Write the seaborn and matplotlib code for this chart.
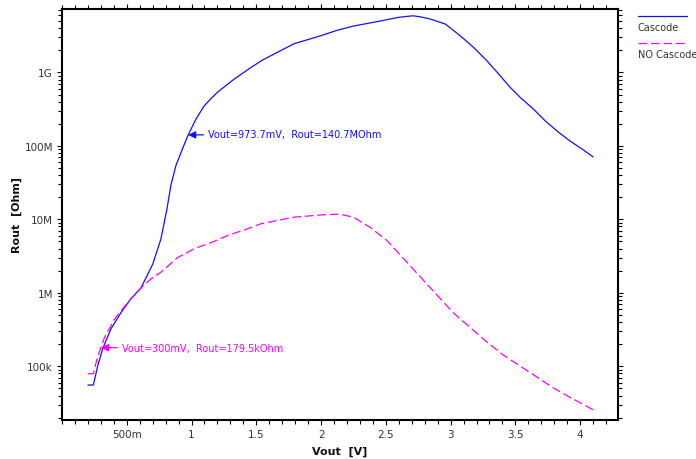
import numpy as np
import pandas as pd
import matplotlib
matplotlib.use("Agg")
import matplotlib.pyplot as plt
from matplotlib.lines import Line2D
from matplotlib.ticker import FixedLocator, LogLocator, NullFormatter, MultipleLocator
import seaborn as sns

# ---- data (Vout in V, Rout in Ohm) ----
cascode_v = [0.20, 0.242, 0.276, 0.314, 0.378, 0.455, 0.532, 0.61, 0.70, 0.763,
             0.81, 0.84, 0.879, 0.93, 0.9737, 1.033, 1.097, 1.149, 1.20, 1.33,
             1.46, 1.55, 1.79, 2.0, 2.12, 2.25, 2.46, 2.60, 2.71, 2.767,
             2.844, 2.96, 3.074, 3.177, 3.28, 3.383, 3.46, 3.537, 3.64, 3.73,
             3.82, 3.92, 4.025, 4.10]
cascode_r = [55.7e3, 55.7e3, 102e3, 174e3, 324e3, 537e3, 832e3, 1.17e6, 2.45e6, 5.37e6,
             13.8e6, 28.8e6, 53.7e6, 91.2e6, 140.7e6, 229e6, 350e6, 437e6, 537e6, 813e6,
             1.17e9, 1.48e9, 2.45e9, 3.16e9, 3.72e9, 4.27e9, 5.01e9, 5.62e9, 5.89e9, 5.70e9,
             5.31e9, 4.54e9, 3.15e9, 2.19e9, 1.44e9, 899e6, 625e6, 457e6, 316e6, 219e6,
             160e6, 117e6, 88.0e6, 70.8e6]

nocascode_v = [0.20, 0.242, 0.276, 0.30, 0.327, 0.404, 0.507, 0.61, 0.686, 0.763,
               0.892, 1.02, 1.174, 1.277, 1.43, 1.534, 1.79, 2.0, 2.10, 2.15,
               2.25, 2.38, 2.51, 2.64, 2.77, 2.90, 3.02, 3.15, 3.28, 3.41,
               3.54, 3.67, 3.79, 3.92, 4.10]
nocascode_r = [79.4e3, 79.4e3, 138e3, 179.5e3, 245e3, 437e3, 741e3, 1.17e6, 1.55e6, 1.91e6,
               3.02e6, 3.98e6, 5.01e6, 6.03e6, 7.41e6, 8.71e6, 10.7e6, 11.5e6, 11.7e6, 11.7e6,
               10.7e6, 7.76e6, 5.13e6, 2.88e6, 1.62e6, 912e3, 537e3, 339e3, 214e3, 141e3,
               100e3, 70.8e3, 51.3e3, 38.0e3, 25.7e3]

series_names = ["Cascode", "NO Cascode"]
x_ticks = [0.5, 1, 1.5, 2, 2.5, 3, 3.5, 4]
x_ticklabels = ["500m", "1", "1.5", "2", "2.5", "3", "3.5", "4"]
y_ticks = [1e5, 1e6, 1e7, 1e8, 1e9]
y_ticklabels = ["100k", "1M", "10M", "100M", "1G"]

df = pd.concat([
    pd.DataFrame({"Vout": cascode_v, "Rout": cascode_r, "series": series_names[0]}),
    pd.DataFrame({"Vout": nocascode_v, "Rout": nocascode_r, "series": series_names[1]}),
], ignore_index=True)

sns.set_theme(style="white")
plt.rcParams["font.family"] = ["DejaVu Sans"]

W, H = 696, 460
fig = plt.figure(figsize=(W / 100, H / 100), dpi=100)
ax = fig.add_axes([62 / W, 1 - 420.7 / H, (617.7 - 62) / W, (420.7 - 9.5) / H])

colors = {"Cascode": "#1010ff", "NO Cascode": "#ff00ff"}
sns.lineplot(data=df, x="Vout", y="Rout", hue="series", style="series",
             palette=colors, dashes={"Cascode": "", "NO Cascode": (7, 3)},
             sort=False, estimator=None, linewidth=0.9, legend=False, ax=ax)

ax.set_yscale("log")
ax.set_xlim(0, 4.29)
ax.set_ylim(1.88e4, 7.4e9)

ax.xaxis.set_major_locator(FixedLocator(x_ticks))
ax.set_xticklabels(x_ticklabels)
ax.xaxis.set_minor_locator(MultipleLocator(0.1))
ax.yaxis.set_major_locator(FixedLocator(y_ticks))
ax.set_yticklabels(y_ticklabels)
ax.yaxis.set_minor_locator(LogLocator(base=10, subs=np.arange(2, 10)))
ax.yaxis.set_minor_formatter(NullFormatter())

ax.tick_params(which="both", direction="out", length=3.5, width=0.8, color="black",
               top=True, right=True, bottom=True, left=True,
               labelsize=7.5, labelcolor="#333333", pad=3)
ax.tick_params(which="minor", length=3)
for s in ax.spines.values():
    s.set_color("black")
    s.set_linewidth(1.5)
ax.grid(False)

ax.set_xlabel("Vout  [V]", fontsize=8, fontweight="bold", color="#111111", labelpad=5)
ax.set_ylabel("Rout  [Ohm]", fontsize=8, fontweight="bold", color="#111111", labelpad=2)

# annotations
ax.annotate("Vout=973.7mV,  Rout=140.7MOhm", xy=(cascode_v[14], cascode_r[14]),
            xytext=(20, 1), textcoords="offset pixels", ha="left", va="center",
            fontsize=7, color="#1010ff",
            arrowprops=dict(arrowstyle="-|>", color="#1010ff", lw=0.9,
                            shrinkA=1, shrinkB=0, mutation_scale=11))
ax.annotate("Vout=300mV,  Rout=179.5kOhm", xy=(nocascode_v[3], nocascode_r[3]),
            xytext=(21, 0), textcoords="offset pixels", ha="left", va="center",
            fontsize=7, color="#ff00ff",
            arrowprops=dict(arrowstyle="-|>", color="#ff00ff", lw=0.9,
                            shrinkA=1, shrinkB=0, mutation_scale=11))

# legend (drawn at the right of the plot, line above label)
def fx(px):
    return px / W

def fy(py):
    return 1 - py / H

fig.add_artist(Line2D([fx(638), fx(687)], [fy(17.3), fy(17.3)], color=colors["Cascode"],
                      lw=0.9, transform=fig.transFigure))
fig.text(fx(638), fy(27.7), series_names[0], fontsize=7, color="#333333",
         ha="left", va="center")
fig.add_artist(Line2D([fx(638), fx(687)], [fy(44), fy(44)], color=colors["NO Cascode"],
                      lw=0.9, linestyle=(0, (7, 3)), transform=fig.transFigure))
fig.text(fx(638), fy(54.5), series_names[1], fontsize=7, color="#333333",
         ha="left", va="center")

fig.savefig("out.png", dpi=100, facecolor="white")
